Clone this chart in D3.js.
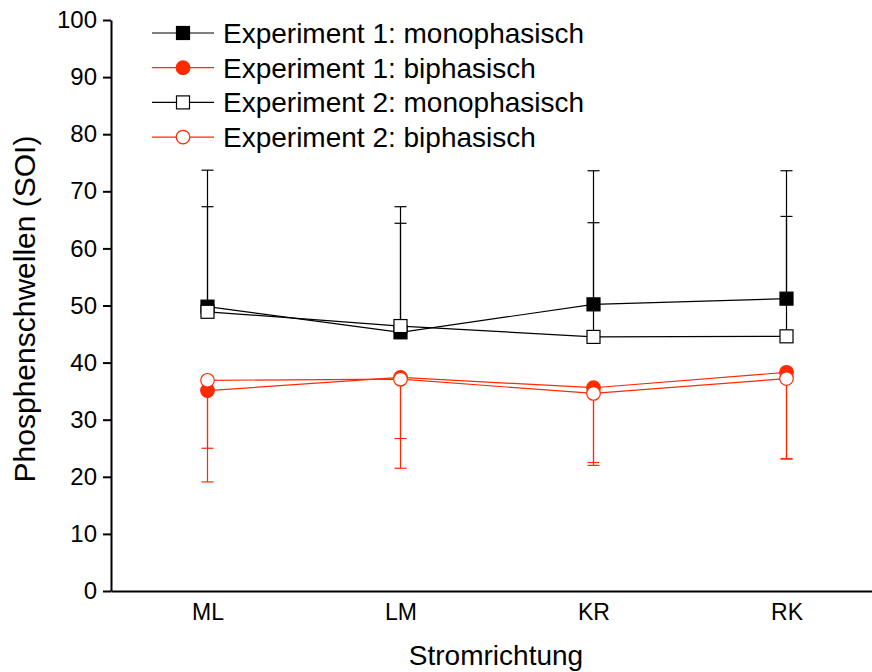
<!DOCTYPE html>
<html>
<head>
<meta charset="utf-8">
<script src="https://cdn.jsdelivr.net/npm/d3@7"></script>
<style>
  html, body { margin: 0; padding: 0; background: #fff; }
  svg { display: block; font-family: "Liberation Sans", Arial, sans-serif; }
</style>
</head>
<body>
<svg id="chart" width="872" height="672"></svg>
<script>
// Stromrichtung categories
const categories = ["ML", "LM", "KR", "RK"];

// Mean phosphene thresholds (SOI) per series
const exp1Mono = [49.8, 45.3, 50.2, 51.2];
const exp1Bi   = [35.1, 37.4, 35.6, 38.3];
const exp2Mono = [48.9, 46.4, 44.5, 44.6];
const exp2Bi   = [36.9, 37.1, 34.6, 37.2];

// Error bar ends (monophasic: upper end, biphasic: lower end)
const exp1MonoErr = [73.7, 67.3, 73.6, 73.6];
const exp2MonoErr = [67.3, 64.4, 64.5, 65.6];
const exp1BiErr   = [19.1, 21.5, 22.0, 23.1];
const exp2BiErr   = [25.0, 26.7, 22.5, 23.2];

const yTicks = [0, 10, 20, 30, 40, 50, 60, 70, 80, 90, 100];

const RED = "#ff2a00";
const BLACK = "#000";

const series = [
  { name: "Experiment 1: monophasisch", values: exp1Mono, err: exp1MonoErr, color: BLACK, shape: "square", filled: true },
  { name: "Experiment 1: biphasisch",   values: exp1Bi,   err: exp1BiErr,   color: RED,   shape: "circle", filled: true },
  { name: "Experiment 2: monophasisch", values: exp2Mono, err: exp2MonoErr, color: BLACK, shape: "square", filled: false },
  { name: "Experiment 2: biphasisch",   values: exp2Bi,   err: exp2BiErr,   color: RED,   shape: "circle", filled: false }
];

const svg = d3.select("#chart");

const x = d3.scaleLinear().domain([0.5, 4.5]).range([111, 883]);
const y = d3.scaleLinear().domain([0, 100]).range([591, 20]);

// Axes
const yAxis = d3.axisLeft(y).tickValues(yTicks).tickSize(8).tickPadding(6).tickSizeOuter(0);
const gy = svg.append("g").attr("transform", "translate(111,0)").call(yAxis);
gy.select(".domain").attr("stroke-width", 2);
gy.selectAll(".tick line").attr("stroke-width", 2);
gy.selectAll(".tick text").attr("font-size", 24).attr("font-family", "Liberation Sans, Arial, sans-serif").attr("fill", "#000");

const xAxis = d3.axisBottom(x).tickValues([1, 2, 3, 4]).tickFormat(i => categories[i - 1]).tickSize(0).tickPadding(13).tickSizeOuter(0);
const gx = svg.append("g").attr("transform", "translate(0,591)").call(xAxis);
gx.select(".domain").attr("stroke-width", 2);
gx.selectAll(".tick text").attr("font-size", 23).attr("font-family", "Liberation Sans, Arial, sans-serif").attr("fill", "#000");

// Axis titles
svg.append("text")
  .attr("x", 496).attr("y", 665)
  .attr("text-anchor", "middle")
  .attr("font-size", 28)
  .text("Stromrichtung");

svg.append("text")
  .attr("transform", "translate(35,309) rotate(-90)")
  .attr("text-anchor", "middle")
  .attr("font-size", 30)
  .text("Phosphenschwellen (SOI)");

// Error bars
const capHalf = 6;
series.forEach(s => {
  const g = svg.append("g").attr("stroke", s.color).attr("stroke-width", 1.2).attr("fill", "none");
  s.values.forEach((v, i) => {
    const cx = x(i + 1);
    g.append("line").attr("x1", cx).attr("x2", cx).attr("y1", y(v)).attr("y2", y(s.err[i]));
    g.append("line").attr("x1", cx - capHalf).attr("x2", cx + capHalf).attr("y1", y(s.err[i])).attr("y2", y(s.err[i]));
  });
});

// Lines
const line = d3.line().x((d, i) => x(i + 1)).y(d => y(d));
series.forEach(s => {
  svg.append("path").datum(s.values)
    .attr("d", line)
    .attr("fill", "none")
    .attr("stroke", s.color)
    .attr("stroke-width", 1.2);
});

// Markers
function drawMarker(g, s, cx, cy) {
  const fill = s.filled ? s.color : "#fff";
  if (s.shape === "square") {
    g.append("rect").attr("x", cx - 6.5).attr("y", cy - 6.5).attr("width", 13).attr("height", 13)
      .attr("fill", fill).attr("stroke", s.color).attr("stroke-width", 1.2);
  } else {
    g.append("circle").attr("cx", cx).attr("cy", cy).attr("r", 6.8)
      .attr("fill", fill).attr("stroke", s.color).attr("stroke-width", 1.2);
  }
}
series.forEach(s => {
  const g = svg.append("g");
  s.values.forEach((v, i) => drawMarker(g, s, x(i + 1), y(v)));
});

// Legend
const legend = svg.append("g");
series.forEach((s, k) => {
  const ly = 33 + k * 34.7;
  legend.append("line").attr("x1", 152).attr("x2", 214).attr("y1", ly).attr("y2", ly)
    .attr("stroke", s.color).attr("stroke-width", 1.2);
  drawMarker(legend, s, 183, ly);
  legend.append("text").attr("x", 223).attr("y", ly + 10)
    .attr("font-size", 28).attr("fill", "#000").text(s.name);
});
</script>
</body>
</html>
